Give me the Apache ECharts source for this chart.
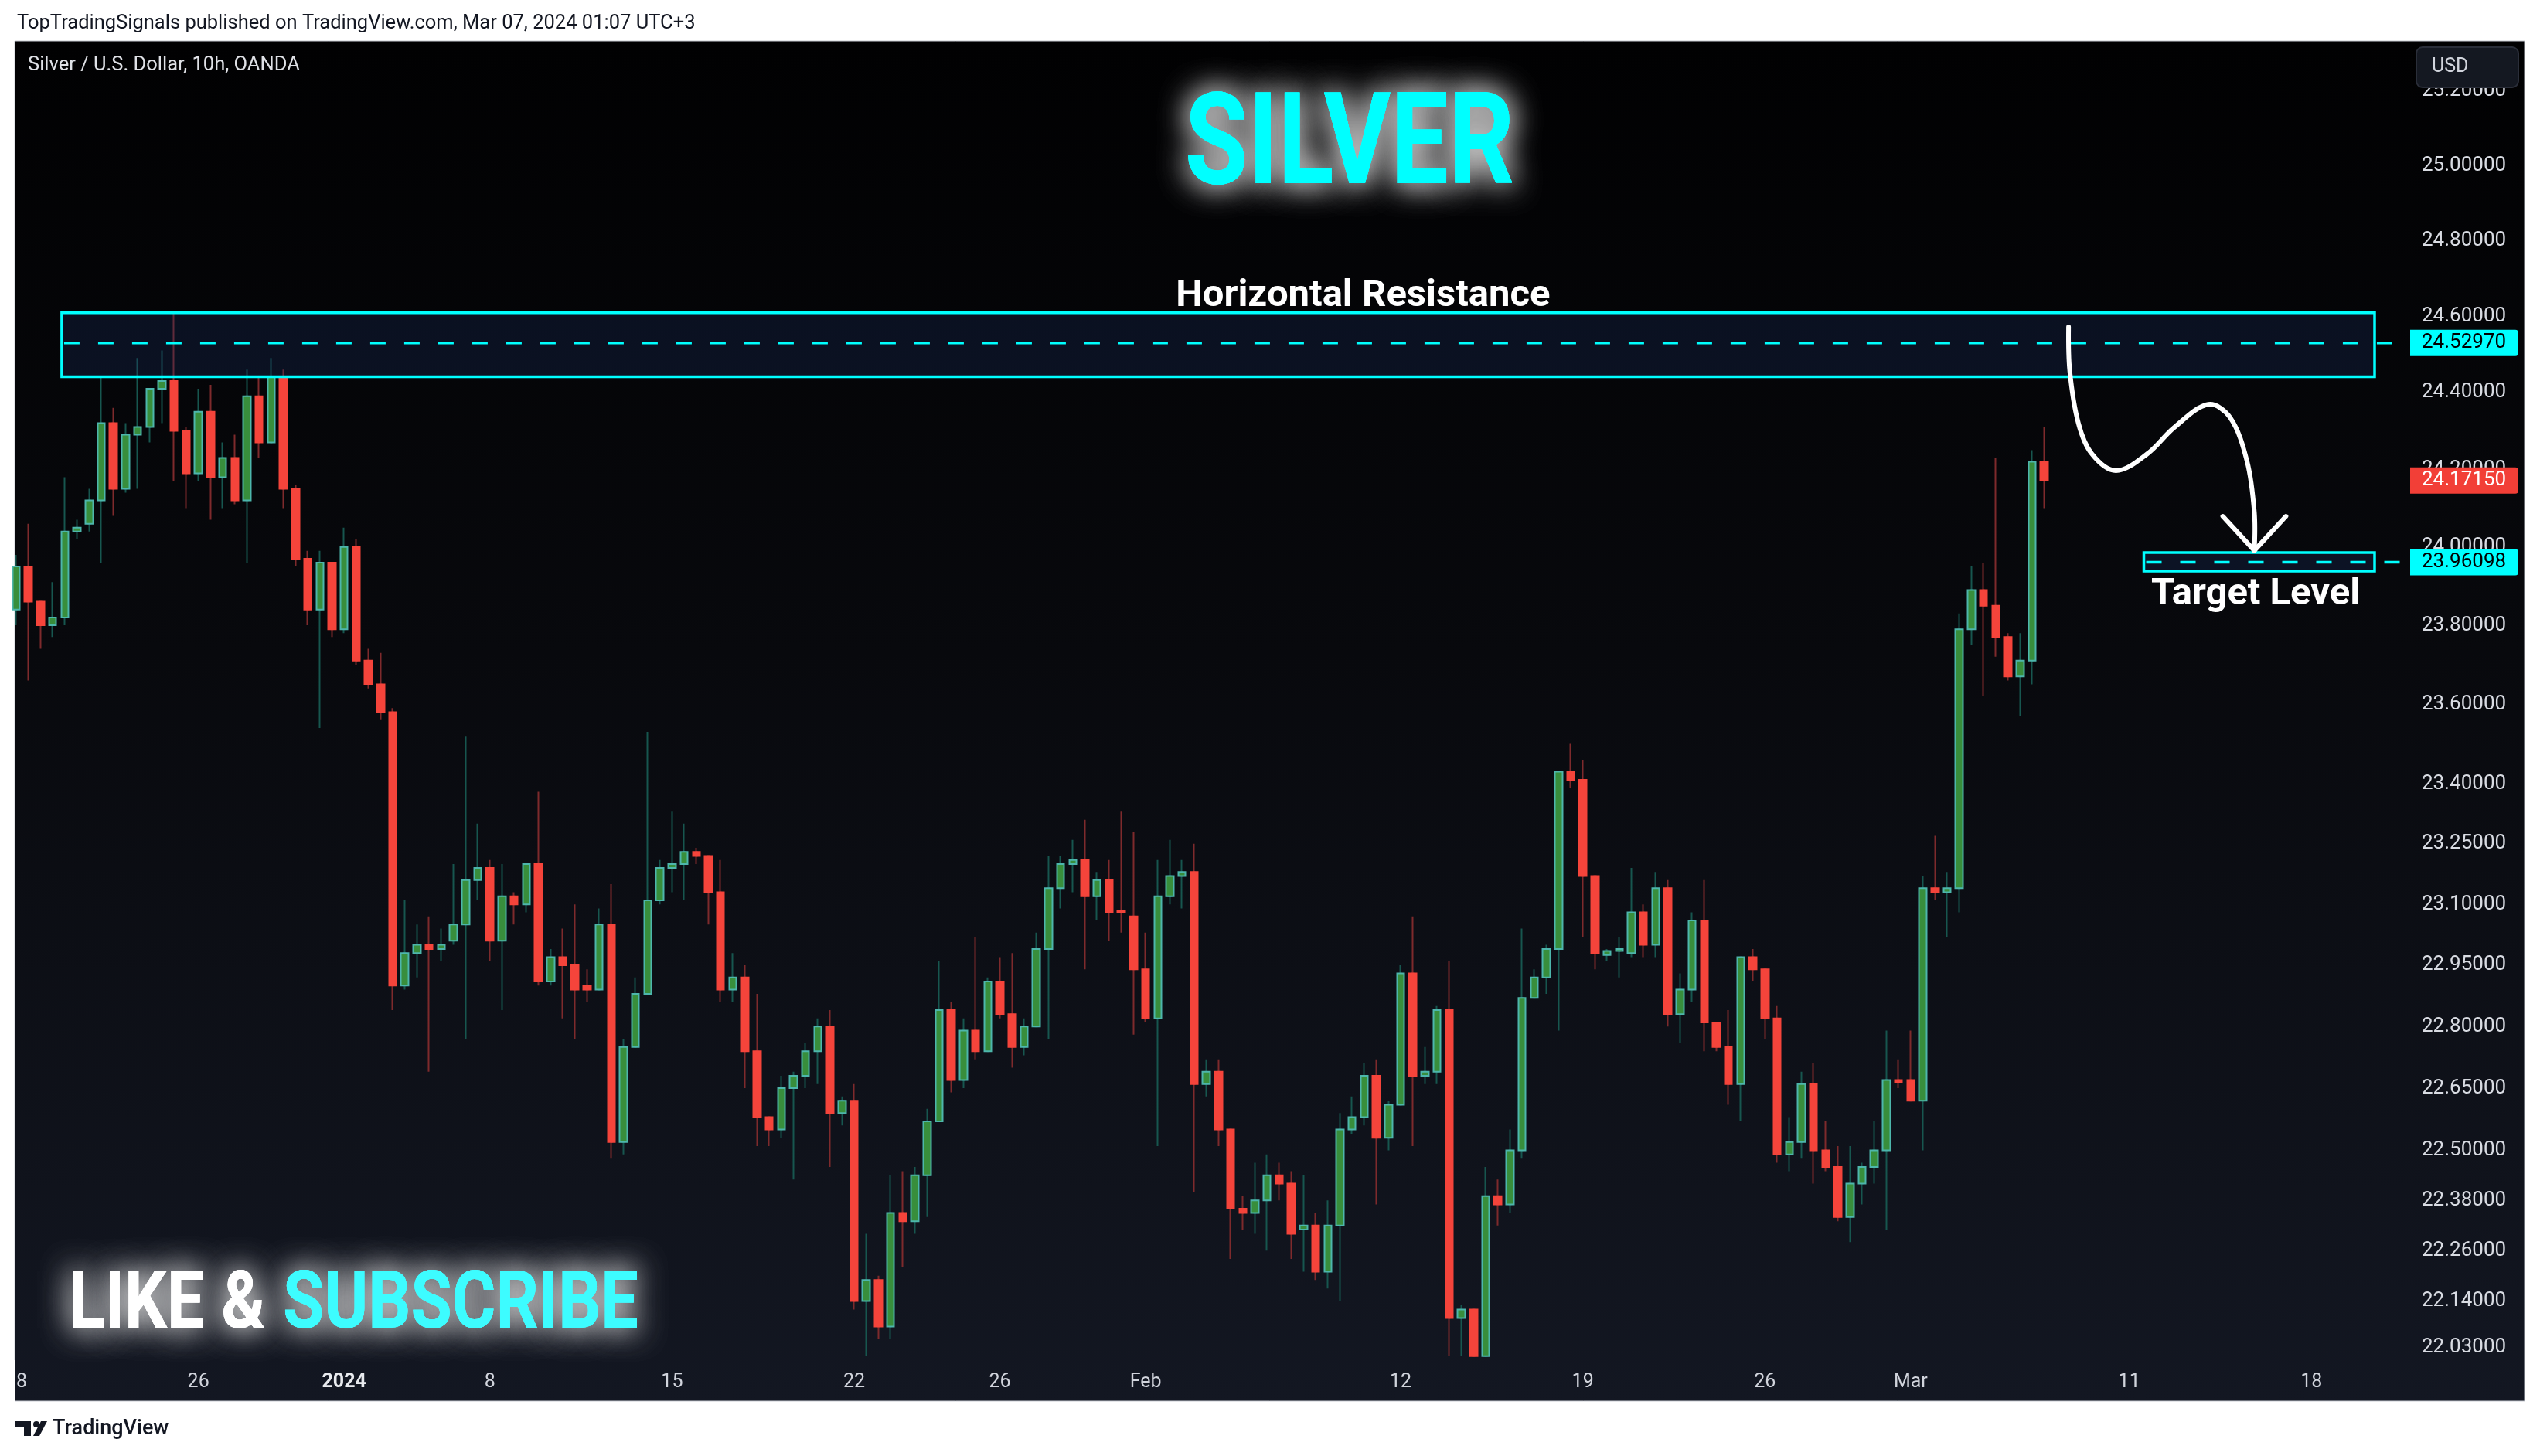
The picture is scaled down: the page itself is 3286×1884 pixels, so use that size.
<!DOCTYPE html>
<html><head><meta charset="utf-8">
<script src="https://cdn.jsdelivr.net/npm/echarts@6/dist/echarts.min.js"></script>
<style>html,body{margin:0;padding:0;background:#fff;}#c{width:3286px;height:1884px;}</style>
</head><body><div id="c"></div>
<script>
// ---- data (XAGUSD, OANDA, 10h bars) ----
const opens = [23.84,23.95,23.86,23.80,23.82,24.04,24.06,24.12,24.32,24.15,
24.29,24.31,24.41,24.43,24.30,24.19,24.35,24.18,24.23,24.12,
24.39,24.27,24.44,24.15,23.97,23.84,23.96,23.79,24.00,23.71,
23.65,23.58,22.90,22.98,23.00,22.99,23.01,23.05,23.16,23.19,
23.01,23.12,23.10,23.20,22.91,22.97,22.95,22.90,22.89,23.05,
22.52,22.75,22.88,23.11,23.19,23.20,23.23,23.22,23.13,22.89,
22.92,22.74,22.58,22.55,22.65,22.68,22.74,22.80,22.59,22.62,
22.14,22.19,22.08,22.35,22.33,22.44,22.57,22.84,22.67,22.79,
22.74,22.91,22.83,22.75,22.80,22.99,23.14,23.20,23.21,23.12,
23.16,23.085,23.07,22.94,22.82,23.12,23.17,23.18,22.66,22.69,
22.55,22.36,22.35,22.38,22.44,22.42,22.31,22.32,22.21,22.32,
22.55,22.58,22.68,22.53,22.61,22.93,22.68,22.69,22.84,22.10,
22.12,22.01,22.39,22.37,22.50,22.87,22.92,22.99,23.43,23.41,
23.17,22.975,22.985,22.98,23.08,23.00,23.14,22.83,22.89,23.06,
22.81,22.75,22.66,22.97,22.94,22.82,22.49,22.52,22.66,22.50,
22.46,22.34,22.42,22.46,22.50,22.67,22.67,22.62,23.14,23.13,
23.14,23.79,23.89,23.85,23.77,23.67,23.71,24.22];
const closes = [23.95,23.86,23.80,23.82,24.04,24.05,24.12,24.32,24.15,24.29,
24.31,24.41,24.43,24.30,24.19,24.35,24.18,24.23,24.12,24.39,
24.27,24.44,24.15,23.97,23.84,23.96,23.79,24.00,23.71,23.65,
23.58,22.90,22.98,23.00,22.99,23.00,23.05,23.16,23.19,23.01,
23.12,23.10,23.20,22.91,22.97,22.95,22.89,22.89,23.05,22.52,
22.75,22.88,23.11,23.19,23.20,23.23,23.22,23.13,22.89,22.92,
22.74,22.58,22.55,22.65,22.68,22.74,22.80,22.59,22.62,22.14,
22.19,22.08,22.35,22.33,22.44,22.57,22.84,22.67,22.79,22.74,
22.91,22.83,22.75,22.80,22.99,23.14,23.20,23.21,23.12,23.16,
23.08,23.08,22.94,22.82,23.12,23.17,23.18,22.66,22.69,22.55,
22.36,22.35,22.38,22.44,22.42,22.30,22.32,22.21,22.32,22.55,
22.58,22.68,22.53,22.61,22.93,22.68,22.69,22.84,22.10,22.12,
22.01,22.39,22.37,22.50,22.87,22.92,22.99,23.43,23.41,23.17,
22.98,22.985,22.99,23.08,23.00,23.14,22.83,22.89,23.06,22.81,
22.75,22.66,22.97,22.94,22.82,22.49,22.52,22.66,22.50,22.46,
22.34,22.42,22.46,22.50,22.67,22.665,22.62,23.14,23.13,23.14,
23.79,23.89,23.85,23.77,23.67,23.71,24.22,24.1715];
const lows = [23.80,23.66,23.74,23.77,23.80,24.02,24.04,23.96,24.08,24.14,
24.15,24.27,24.32,24.17,24.10,24.17,24.07,24.10,24.11,23.96,
24.23,24.27,24.10,23.95,23.80,23.54,23.77,23.78,23.70,23.64,
23.56,22.84,22.89,22.92,22.69,22.96,23.00,22.77,23.11,22.96,
22.84,23.05,23.08,22.90,22.90,22.82,22.77,22.86,22.89,22.48,
22.49,22.75,22.88,23.10,23.13,23.11,23.20,23.05,22.86,22.86,
22.65,22.51,22.51,22.53,22.43,22.65,22.66,22.46,22.56,22.12,
22.01,22.05,22.05,22.22,22.30,22.34,22.57,22.64,22.65,22.72,
22.74,22.82,22.70,22.73,22.80,22.77,23.09,23.13,22.94,23.06,
23.01,23.03,22.78,22.81,22.51,23.10,23.09,22.40,22.63,22.51,
22.24,22.31,22.30,22.26,22.38,22.24,22.21,22.19,22.17,22.14,
22.54,22.56,22.37,22.50,22.61,22.51,22.66,22.66,22.01,22.01,
22.01,22.01,22.32,22.35,22.48,22.87,22.88,22.79,23.39,23.02,
22.94,22.96,22.92,22.97,22.97,22.97,22.80,22.76,22.86,22.74,
22.74,22.61,22.57,22.91,22.77,22.47,22.45,22.48,22.42,22.45,
22.33,22.28,22.37,22.42,22.31,22.65,22.62,22.50,23.11,23.02,
23.08,23.75,23.62,23.72,23.66,23.57,23.65,24.10];
const highs = [23.98,24.06,23.86,23.91,24.18,24.07,24.15,24.44,24.36,24.32,
24.49,24.41,24.51,24.61,24.31,24.41,24.42,24.27,24.29,24.46,
24.44,24.49,24.46,24.16,23.99,23.99,23.96,24.05,24.02,23.74,
23.73,23.59,23.11,23.05,23.07,23.04,23.20,23.52,23.30,23.21,
23.20,23.13,23.20,23.38,22.99,23.04,23.10,22.94,23.09,23.15,
22.77,22.92,23.53,23.21,23.33,23.30,23.24,23.22,23.21,22.98,
22.95,22.88,22.58,22.68,22.69,22.76,22.82,22.84,22.63,22.66,
22.30,22.20,22.44,22.45,22.46,22.60,22.96,22.86,22.82,23.02,
22.92,22.97,22.98,22.82,23.03,23.22,23.22,23.26,23.31,23.18,
23.21,23.33,23.28,23.03,23.21,23.26,23.21,23.25,22.72,22.72,
22.55,22.39,22.47,22.49,22.47,22.45,22.44,22.35,22.38,22.59,
22.63,22.71,22.72,22.62,22.95,23.07,22.75,22.85,22.96,22.13,
22.12,22.46,22.43,22.55,23.04,22.94,23.00,23.43,23.50,23.46,
23.17,22.99,23.02,23.19,23.10,23.18,23.16,22.93,23.08,23.16,
22.81,22.84,22.97,22.99,22.94,22.85,22.58,22.69,22.71,22.57,
22.51,22.51,22.47,22.57,22.79,22.72,22.79,23.17,23.27,23.18,
23.83,23.95,23.96,24.23,23.78,23.78,24.25,24.31];
// trading days (3 bars of 10h per day); the last ten days are empty space to the right
const tradingDays = ['2023-12-18','2023-12-19','2023-12-20','2023-12-21','2023-12-22','2023-12-26','2023-12-27','2023-12-28','2023-12-29',
'2024-01-02','2024-01-03','2024-01-04','2024-01-05','2024-01-08','2024-01-09','2024-01-10','2024-01-11','2024-01-12',
'2024-01-15','2024-01-16','2024-01-17','2024-01-18','2024-01-19','2024-01-22','2024-01-23','2024-01-24','2024-01-25','2024-01-26',
'2024-01-29','2024-01-30','2024-01-31','2024-02-01','2024-02-02','2024-02-05','2024-02-06','2024-02-07','2024-02-08','2024-02-09',
'2024-02-12','2024-02-13','2024-02-14','2024-02-15','2024-02-16','2024-02-19','2024-02-20','2024-02-21','2024-02-22','2024-02-23',
'2024-02-26','2024-02-27','2024-02-28','2024-02-29','2024-03-01','2024-03-04','2024-03-05','2024-03-06',
'2024-03-07','2024-03-08','2024-03-11','2024-03-12','2024-03-13','2024-03-14','2024-03-15','2024-03-18','2024-03-19','2024-03-20'];
const barHours = ['00','10','20'];
const xTickDays = ['2023-12-18','2023-12-26','2024-01-02','2024-01-08','2024-01-15','2024-01-22','2024-01-26','2024-02-01','2024-02-12','2024-02-19','2024-02-26','2024-03-01','2024-03-11','2024-03-18'];
const xTickLabels = ['18','26','2024','8','15','22','26','Feb','12','19','26','Mar','11','18'];
const yTickValues = [25.2,25.0,24.8,24.6,24.4,24.2,24.0,23.8,23.6,23.4,23.25,23.1,22.95,22.8,22.65,22.5,22.38,22.26,22.14,22.03];
const yMinPrice = 22.006, yMaxPrice = 25.333;
const lastPrice = 24.1715;
const resistance = {level:24.5297, top:24.609, bottom:24.441, fromIdx:3.75, toIdx:194.2, dashTo:196.4};
const target = {level:23.96098, top:23.986, bottom:23.938, fromIdx:175.2, toIdx:194.2, dashTo:196.6};
const arrowCurve = [[169.0,24.572],[169.1,24.456],[169.8,24.321],[170.9,24.241],[172.9,24.197],[175.5,24.241],[177.7,24.309],[180.5,24.369],[182.3,24.335],[183.7,24.221],[184.3,24.089],[184.3,23.991]];
const arrowHead = [[181.7,24.079],[184.3,23.991],[186.9,24.079]];

// ---- chart ----
const L = Math.log;
const categories = tradingDays.flatMap(d => barHours.map(h => d + ' ' + h));
const ohlc = opens.map((o,i) => [L(o), L(closes[i]), L(lows[i]), L(highs[i])]);
const bodies = opens.map((o,i) => [L(o), L(closes[i]), L(Math.min(o,closes[i])), L(Math.max(o,closes[i]))]);
const tickSet = new Set(xTickDays.map(d => d + ' 00'));
const FONT = 'Roboto, "Noto Sans", sans-serif';

const chart = echarts.init(document.getElementById('c'), null, {width:3286, height:1884});
chart.setOption({
  animation:false,
  backgroundColor:'#ffffff',
  grid:{left:21, right:170, top:54, bottom:127, containLabel:false},
  xAxis:{
    type:'category', data:categories, boundaryGap:false,
    axisLine:{show:false}, axisTick:{show:false}, splitLine:{show:false},
    axisLabel:{
      interval:(i, v) => tickSet.has(v),
      formatter:(v) => { const t = xTickLabels[xTickDays.indexOf(v.slice(0,10))]; return t === '2024' ? '{b|2024}' : t; },
      color:'#d1d4dc', fontSize:25, fontFamily:FONT, margin:19,
      rich:{b:{fontWeight:'bold', fontSize:25, color:'#e8eaee', fontFamily:FONT}}
    }
  },
  yAxis:{
    type:'value', position:'right', min:L(yMinPrice), max:L(yMaxPrice),
    axisLine:{show:false}, axisTick:{show:false}, splitLine:{show:false},
    axisLabel:{customValues:yTickValues.map(L), formatter:(v) => Math.exp(v).toFixed(5),
      color:'#d8dbe2', fontSize:26, fontFamily:FONT, margin:17}
  },
  series:[
    {type:'candlestick', data:ohlc, barWidth:2, clip:true, z:2,
     itemStyle:{color:'#17564f', color0:'#7e2a2c', borderColor:'#17564f', borderColor0:'#7e2a2c', borderWidth:2}},
    {type:'candlestick', data:bodies, barWidth:10, clip:true, z:3,
     itemStyle:{color:'#388e3c', color0:'#f5443b', borderColor:'#4db6ac', borderColor0:'#f5443b', borderWidth:2}}
  ]
});

const x0 = chart.convertToPixel({xAxisIndex:0}, 0);
const step = chart.convertToPixel({xAxisIndex:0}, 1) - x0;
const px = (i) => x0 + i * step;
const py = (p) => chart.convertToPixel({yAxisIndex:0}, L(p));
const gridRight = 3286 - 170;

function priceTag(v, bg, fg) {
  const y = py(v);
  return [
    {type:'rect', z:50, shape:{x:gridRight + 2, y:y - 17, width:140, height:34, r:[0,4,4,0]}, style:{fill:bg}},
    {type:'text', z:51, style:{text:v.toFixed(5), x:gridRight + 17, y:y, fill:fg, font:'26px ' + FONT, align:'left', verticalAlign:'middle'}}
  ];
}
function zone(z) {
  return [
    {type:'rect', z:10, shape:{x:px(z.fromIdx), y:py(z.top), width:px(z.toIdx) - px(z.fromIdx), height:py(z.bottom) - py(z.top)},
     style:{fill:'rgba(25,45,95,0.30)', stroke:'#00ffff', lineWidth:3.5}},
    {type:'line', z:11, shape:{x1:px(z.fromIdx) + 3, y1:py(z.level), x2:px(z.dashTo), y2:py(z.level)},
     style:{stroke:'#00ffff', lineWidth:3.5, lineDash:[20,24]}}
  ];
}
// glowing sticker text: soft grey halo (blurred shadow) under crisp coloured letters
function glowText(txt, x, y, sx, font, fill, align) {
  const base = {text:txt, x:0, y:0, font:font, align:align, verticalAlign:'middle', fill:fill};
  const halo = {shadowBlur:38, shadowColor:'rgba(215,215,215,0.95)', textShadowBlur:38, textShadowColor:'rgba(215,215,215,0.95)'};
  return [
    {type:'text', z:28, x:x, y:y, scaleX:sx, style:Object.assign({}, base, halo)},
    {type:'text', z:29, x:x, y:y, scaleX:sx, style:Object.assign({}, base, halo)},
    {type:'text', z:30, x:x, y:y, scaleX:sx, style:Object.assign({}, base)}
  ];
}
const els = [
  {type:'rect', z:-10, shape:{x:19, y:53, width:3247, height:1760},
   style:{fill:new echarts.graphic.LinearGradient(0,0,0,1,[{offset:0,color:'#010102'},{offset:0.45,color:'#08090d'},{offset:1,color:'#131722'}]), stroke:'#c9ccd3', lineWidth:1}},
  {type:'rect', z:60, shape:{x:0, y:1760, width:19, height:60}, style:{fill:'#ffffff'}},
  {type:'text', z:5, style:{text:'TopTradingSignals published on TradingView.com, Mar 07, 2024 01:07 UTC+3', x:22, y:31, fill:'#131722', font:'25.5px ' + FONT, verticalAlign:'middle'}},
  {type:'text', z:5, style:{text:'Silver / U.S. Dollar, 10h, OANDA', x:36, y:85, fill:'#dfe1e6', font:'25.5px ' + FONT, verticalAlign:'middle'}},
  {type:'rect', z:55, shape:{x:3126, y:61, width:132, height:52, r:8}, style:{fill:'#141821', stroke:'#2a2e39', lineWidth:2}},
  {type:'text', z:56, style:{text:'USD', x:3146, y:87, fill:'#d1d4dc', font:'25px ' + FONT, verticalAlign:'middle'}},
  ...zone(resistance), ...zone(target),
  ...priceTag(resistance.level, '#00ffff', '#000000'),
  ...priceTag(lastPrice, '#f23f37', '#ffffff'),
  ...priceTag(target.level, '#00ffff', '#000000'),
  {type:'text', z:20, style:{text:'Horizontal Resistance', x:px(110.9), y:py(resistance.top) - 21, fill:'#ffffff', font:'bold 49px ' + FONT, align:'center', verticalAlign:'middle'}},
  {type:'text', z:20, style:{text:'Target Level', x:px(184.4), y:py(target.bottom) + 31, fill:'#ffffff', font:'bold 49px ' + FONT, align:'center', verticalAlign:'middle'}},
  {type:'polyline', z:20, shape:{points:arrowCurve.map(p => [px(p[0]), py(p[1])]), smooth:0.35},
   style:{stroke:'#ffffff', lineWidth:6, lineCap:'round', lineJoin:'round', fill:null}},
  {type:'polyline', z:20, shape:{points:arrowHead.map(p => [px(p[0]), py(p[1])])},
   style:{stroke:'#ffffff', lineWidth:6, lineCap:'round', lineJoin:'round', fill:null}},
  ...glowText('SILVER', 1746, 195, 0.80, 'bold 166px ' + FONT, '#00ffff', 'center'),
  ...glowText('LIKE &', 89, 1692, 0.84, 'bold 103px ' + FONT, '#ffffff', 'left'),
  ...glowText('SUBSCRIBE', 366, 1692, 0.84, 'bold 103px ' + FONT, '#3dfcff', 'left'),
  {type:'rect', z:5, shape:{x:20, y:1839, width:20, height:7}, style:{fill:'#131722'}},
  {type:'rect', z:5, shape:{x:31, y:1839, width:9, height:19}, style:{fill:'#131722'}},
  {type:'circle', z:5, shape:{cx:47, cy:1843, r:4}, style:{fill:'#131722'}},
  {type:'polygon', z:5, shape:{points:[[53,1839],[61,1839],[51,1858],[43,1858]]}, style:{fill:'#131722'}},
  {type:'text', z:5, style:{text:'TradingView', x:68, y:1849, fill:'#131722', font:'500 27px ' + FONT, verticalAlign:'middle'}}
];
chart.setOption({graphic:{elements:els}});
</script></body></html>
